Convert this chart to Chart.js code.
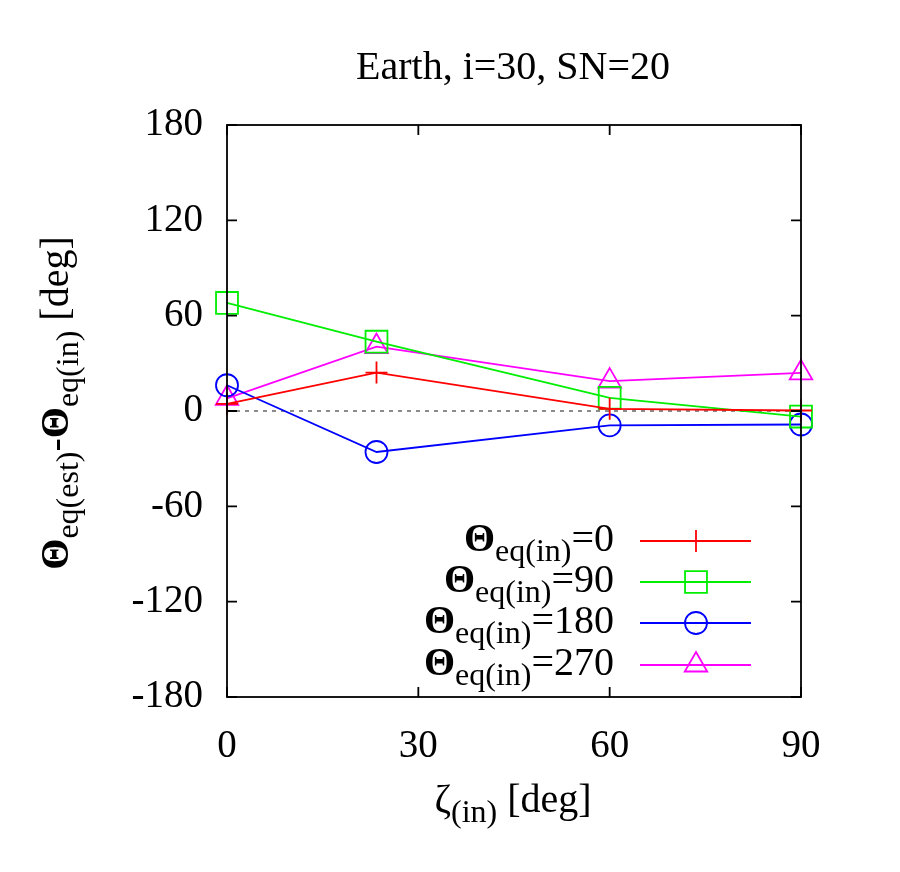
<!DOCTYPE html>
<html>
<head>
<meta charset="utf-8">
<script src="https://cdn.jsdelivr.net/npm/chart.js@4/dist/chart.umd.min.js"></script>
<style>
  html, body { margin: 0; padding: 0; background: #fff; }
  #wrap { width: 900px; height: 872px; }
</style>
</head>
<body>
<div id="wrap"><canvas id="chart" width="900" height="872"></canvas></div>
<script>
// zeta_(in) values (Earth obliquity ~23.44 deg)
const zetaIn = [0, 23.44, 60, 90];

// Theta_eq(est) - Theta_eq(in) for each Theta_eq(in)
const theta0 = [4.5, 24.2, 1.4, 0.3];
const theta90 = [68, 43.6, 8.3, -3.5];
const theta180 = [16.2, -25.8, -9.1, -8.5];
const theta270 = [8, 40.5, 18.8, 24];

const xTicks = [0, 30, 60, 90];
const yTicks = [-180, -120, -60, 0, 60, 120, 180];

const serif = '"Liberation Serif", "DejaVu Serif", serif';

const series = [
  { value: '0', data: theta0, color: '#ff0000', style: 'cross', radius: 11 },
  { value: '90', data: theta90, color: '#00ee00', style: 'rect', radius: 15.5 },
  { value: '180', data: theta180, color: '#0000ff', style: 'circle', radius: 11 },
  { value: '270', data: theta270, color: '#ff00ff', style: 'triangle', radius: 13 }
];

const datasets = series.map(s => ({
  label: 'Θeq(in)=' + s.value,
  data: zetaIn.map((x, i) => ({ x: x, y: s.data[i] })),
  borderColor: s.color,
  borderWidth: 1.8,
  pointStyle: s.style,
  pointRadius: s.radius,
  pointHoverRadius: s.radius,
  pointBorderColor: s.color,
  pointBackgroundColor: 'rgba(0,0,0,0)',
  pointBorderWidth: 1.8,
  tension: 0,
  clip: false
}));

// dashed zero line
datasets.push({
  label: 'zero',
  data: [{ x: xTicks[0], y: 0 }, { x: xTicks[xTicks.length - 1], y: 0 }],
  borderColor: '#666',
  borderWidth: 1.3,
  borderDash: [4, 5],
  pointRadius: 0,
  tension: 0
});

// draws text pieces with subscripts, centred or right-aligned at (x, y)
function drawRich(ctx, parts, x, y, align) {
  let total = 0;
  for (const p of parts) {
    ctx.font = p.font;
    total += ctx.measureText(p.t).width;
  }
  let cx = align === 'right' ? x - total : x - total / 2;
  ctx.textAlign = 'left';
  ctx.textBaseline = 'alphabetic';
  for (const p of parts) {
    ctx.font = p.font;
    ctx.fillText(p.t, cx, y + (p.dy || 0));
    cx += ctx.measureText(p.t).width;
  }
}

const big = '40px ' + serif;
const bigBold = 'bold 40px ' + serif;
const small = '32px ' + serif;
const subDy = 10;

const decorations = {
  id: 'decorations',
  afterDraw(chart) {
    const ctx = chart.ctx;
    const area = chart.chartArea;
    const xs = chart.scales.x;
    const ys = chart.scales.y;
    ctx.save();

    // frame
    ctx.strokeStyle = '#000';
    ctx.lineWidth = 1.8;
    ctx.strokeRect(area.left, area.top, area.right - area.left, area.bottom - area.top);

    // inward ticks, mirrored
    const tl = 10;
    ctx.beginPath();
    for (const v of yTicks) {
      const py = ys.getPixelForValue(v);
      ctx.moveTo(area.left, py); ctx.lineTo(area.left + tl, py);
      ctx.moveTo(area.right, py); ctx.lineTo(area.right - tl, py);
    }
    for (const v of xTicks) {
      const px = xs.getPixelForValue(v);
      ctx.moveTo(px, area.bottom); ctx.lineTo(px, area.bottom - tl);
      ctx.moveTo(px, area.top); ctx.lineTo(px, area.top + tl);
    }
    ctx.stroke();

    ctx.fillStyle = '#000';

    // title
    ctx.font = big;
    ctx.textAlign = 'center';
    ctx.textBaseline = 'alphabetic';
    ctx.fillText('Earth, i=30, SN=20', 513, 79);

    // x axis title
    drawRich(ctx, [
      { t: 'ζ', font: big },
      { t: '(in)', font: small, dy: subDy },
      { t: ' [deg]', font: big }
    ], 513, 812, 'center');

    // y axis title
    ctx.save();
    ctx.translate(68, 403);
    ctx.rotate(-Math.PI / 2);
    drawRich(ctx, [
      { t: 'Θ', font: bigBold },
      { t: 'eq(est)', font: small, dy: subDy },
      { t: '-', font: big },
      { t: 'Θ', font: bigBold },
      { t: 'eq(in)', font: small, dy: subDy },
      { t: ' [deg]', font: big }
    ], 0, 0, 'center');
    ctx.restore();

    // legend
    const rowY = [541, 582, 623, 665];
    series.forEach((s, i) => {
      const y = rowY[i];
      ctx.fillStyle = '#000';
      drawRich(ctx, [
        { t: 'Θ', font: bigBold },
        { t: 'eq(in)', font: small, dy: subDy },
        { t: '=' + s.value, font: big }
      ], 614, y + 10, 'right');
      ctx.strokeStyle = s.color;
      ctx.lineWidth = 1.8;
      ctx.beginPath();
      ctx.moveTo(640, y);
      ctx.lineTo(751, y);
      ctx.stroke();
      ctx.fillStyle = 'rgba(0,0,0,0)';
      Chart.helpers.drawPoint(ctx, {
        pointStyle: s.style, radius: s.radius, rotation: 0, borderWidth: 1.8
      }, 696, y);
    });

    ctx.restore();
  }
};

const config = {
  type: 'line',
  data: { datasets },
  options: {
    responsive: false,
    animation: false,
    layout: { padding: { left: 0, top: 125, right: 99, bottom: 0 } },
    scales: {
      x: {
        type: 'linear',
        min: 0,
        max: 90,
        afterFit: scale => { scale.height = 175; },
        afterBuildTicks: scale => { scale.ticks = xTicks.map(v => ({ value: v })); },
        grid: { display: false, drawTicks: false },
        border: { display: false },
        ticks: { color: '#000', font: { family: serif, size: 39 }, padding: 26, maxRotation: 0 }
      },
      y: {
        type: 'linear',
        min: -180,
        max: 180,
        afterFit: scale => { scale.width = 227; },
        afterBuildTicks: scale => { scale.ticks = yTicks.map(v => ({ value: v })); },
        grid: { display: false, drawTicks: false },
        border: { display: false },
        ticks: { color: '#000', font: { family: serif, size: 39 }, padding: 24 }
      }
    },
    plugins: {
      legend: { display: false },
      title: { display: false },
      tooltip: { enabled: false }
    }
  },
  plugins: [decorations]
};

new Chart(document.getElementById('chart'), config);
</script>
</body>
</html>
